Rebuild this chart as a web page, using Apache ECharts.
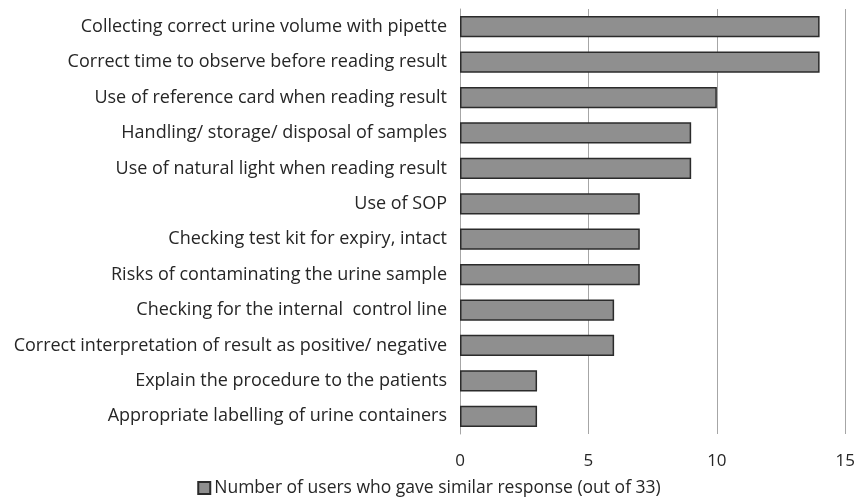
<!DOCTYPE html>
<html>
<head>
<meta charset="utf-8">
<script src="https://cdn.jsdelivr.net/npm/echarts@6/dist/echarts.min.js"></script>
<style>
  html, body { margin: 0; padding: 0; background: #fff; }
  #chart { width: 858px; height: 503px; }
</style>
</head>
<body>
<div id="chart"></div>
<script>
const categories = [
  'Collecting correct urine volume with pipette',
  'Correct time to observe before reading result',
  'Use of reference card when reading result',
  'Handling/ storage/ disposal of samples',
  'Use of natural light when reading result',
  'Use of SOP',
  'Checking test kit for expiry, intact',
  'Risks of contaminating the urine sample',
  'Checking for the internal  control line',
  'Correct interpretation of result as positive/ negative',
  'Explain the procedure to the patients',
  'Appropriate labelling of urine containers'
];
const responses = [14, 14, 10, 9, 9, 7, 7, 7, 6, 6, 3, 3];
const seriesName = 'Number of users who gave similar response (out of 33)';

const chart = echarts.init(document.getElementById('chart'));
const textColor = '#262626';
const font = 'Open Sans';

chart.setOption({
  animation: false,
  grid: { left: 460, right: 10, top: 9, bottom: 69, containLabel: false },
  legend: {
    bottom: 1,
    left: 'center',
    itemWidth: 12,
    itemHeight: 12,
    itemGap: 4,
    textStyle: { color: textColor, fontFamily: font, fontSize: 17.5, padding: [0, 0, 0, -1] },
    data: [{ name: seriesName, icon: 'rect' }]
  },
  xAxis: {
    type: 'value',
    min: 0,
    max: 15,
    interval: 5,
    axisLine: { show: false },
    axisTick: { show: false },
    axisLabel: { color: textColor, fontFamily: font, fontSize: 17, margin: 19 },
    splitLine: { lineStyle: { color: '#a6a6a6', width: 1 } }
  },
  yAxis: {
    type: 'category',
    inverse: true,
    data: categories,
    axisLine: { show: true, lineStyle: { color: '#a6a6a6', width: 1 } },
    axisTick: { show: false },
    axisLabel: { color: textColor, fontFamily: font, fontSize: 18, margin: 13 }
  },
  series: [{
    name: seriesName,
    type: 'bar',
    data: responses,
    barCategoryGap: '40%',
    itemStyle: { color: '#8f8f8f', borderColor: '#2b2b2b', borderWidth: 1.5 }
  }]
});
</script>
</body>
</html>
